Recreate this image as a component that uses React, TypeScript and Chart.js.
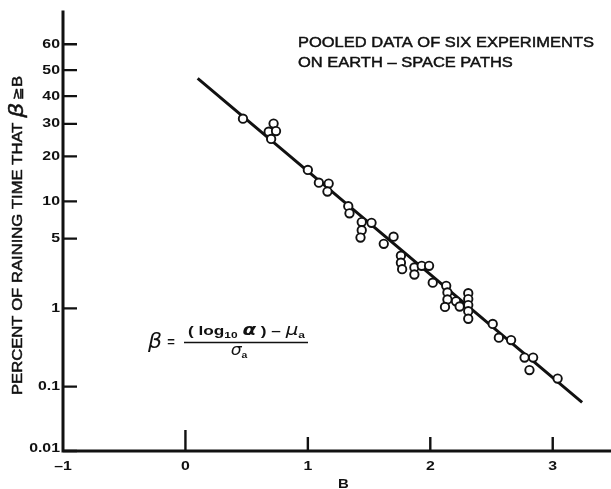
import React, { useEffect, useRef } from 'react';
import { Chart, registerables, LinearScale } from 'chart.js';

Chart.register(...registerables);

// Observed exceedance points: B value and percent of raining time that beta >= B
const B_VALUES = [
  0.47, 0.72, 0.68, 0.74, 0.70,
  1.00, 1.09, 1.17, 1.16,
  1.33, 1.34, 1.44, 1.52, 1.44, 1.43,
  1.62, 1.70, 1.76, 1.76, 1.77,
  1.87, 1.87, 1.93, 1.99, 2.02,
  2.13, 2.14, 2.14, 2.12, 2.21, 2.24,
  2.31, 2.31, 2.31, 2.31, 2.31,
  2.51, 2.56, 2.66, 2.77, 2.84, 2.81, 3.04,
];
const PERCENT_VALUES = [
  31.8, 30.1, 27.4, 27.6, 25.1,
  16.5, 13.6, 13.4, 11.8,
  9.2, 8.1, 6.9, 6.8, 5.9, 5.1,
  4.5, 5.2, 3.5, 3.0, 2.6,
  2.7, 2.3, 2.8, 2.8, 1.9,
  1.76, 1.5, 1.26, 1.04, 1.2, 1.05,
  1.47, 1.27, 1.09, 0.93, 0.76,
  0.66, 0.45, 0.42, 0.25, 0.25, 0.17, 0.13,
];

// Fitted straight line on the probability scale
const LINE_B = [0.1, 3.24];
const LINE_PERCENT = [46.8, 0.059];

// Axis ticks
const X_TICKS = [-1, 0, 1, 2, 3];
const X_TICK_LABELS = ['\u20131', '0', '1', '2', '3'];
const Y_TICKS = [0.01, 0.1, 1, 5, 10, 20, 30, 40, 50, 60];
const Y_TICK_LABELS = ['0.01', '0.1', '1', '5', '10', '20', '30', '40', '50', '60'];

const TITLE_LINES = ['POOLED DATA OF SIX EXPERIMENTS', 'ON EARTH \u2013 SPACE PATHS'];
const X_TITLE = 'B';

const INK = '#111111';
const SANS = '"Liberation Sans", Arial, sans-serif';
const GREEK = '"DejaVu Sans", sans-serif';

// Inverse of the standard normal CDF (Acklam's rational approximation)
function normInv(p: number): number {
  const a = [-3.969683028665376e1, 2.209460984245205e2, -2.759285104469687e2, 1.38357751867269e2, -3.066479806614716e1, 2.506628277459239];
  const b = [-5.447609879822406e1, 1.615858368580409e2, -1.556989798598866e2, 6.680131188771972e1, -1.328068155288572e1];
  const c = [-7.784894002430293e-3, -3.223964580411365e-1, -2.400758277161838, -2.549732539343734, 4.374664141464968, 2.938163982698783];
  const d = [7.784695709041462e-3, 3.224671290700398e-1, 2.445134137142996, 3.754408661907416];
  const pLow = 0.02425;
  if (p < pLow) {
    const q = Math.sqrt(-2 * Math.log(p));
    return (((((c[0] * q + c[1]) * q + c[2]) * q + c[3]) * q + c[4]) * q + c[5]) /
      ((((d[0] * q + d[1]) * q + d[2]) * q + d[3]) * q + 1);
  }
  if (p <= 1 - pLow) {
    const q = p - 0.5;
    const r = q * q;
    return ((((((a[0] * r + a[1]) * r + a[2]) * r + a[3]) * r + a[4]) * r + a[5]) * q) /
      (((((b[0] * r + b[1]) * r + b[2]) * r + b[3]) * r + b[4]) * r + 1);
  }
  const q = Math.sqrt(-2 * Math.log(1 - p));
  return -(((((c[0] * q + c[1]) * q + c[2]) * q + c[3]) * q + c[4]) * q + c[5]) /
    ((((d[0] * q + d[1]) * q + d[2]) * q + d[3]) * q + 1);
}

function normCdf(z: number): number {
  const t = 1 / (1 + 0.3275911 * Math.abs(z) / Math.SQRT2);
  const y = 1 - (((((1.061405429 * t - 1.453152027) * t) + 1.421413741) * t - 0.284496736) * t + 0.254829592) * t *
    Math.exp(-(z * z) / 2);
  return z >= 0 ? 0.5 * (1 + y) : 0.5 * (1 - y);
}

// Normal-probability axis for percentages
class ProbitScale extends LinearScale {
  static id = 'probit';
  static defaults = {};
  _zMin = 0;
  _zMax = 1;

  determineDataLimits() {
    const opts: any = this.options;
    this.min = opts.min;
    this.max = opts.max;
  }

  buildTicks() {
    return Y_TICKS.map((value) => ({ value }));
  }

  configure() {
    super.configure();
    this._zMin = normInv(this.min / 100);
    this._zMax = normInv(this.max / 100);
  }

  getPixelForValue(value: number) {
    const z = normInv(value / 100);
    return this.getPixelForDecimal((z - this._zMin) / (this._zMax - this._zMin));
  }

  getValueForPixel(pixel: number) {
    const dec = this.getDecimalForPixel(pixel);
    return 100 * normCdf(this._zMin + dec * (this._zMax - this._zMin));
  }
}
Chart.register(ProbitScale as any);

type Run = { text: string; font: string; dy?: number };

function runsWidth(ctx: CanvasRenderingContext2D, runs: Run[]) {
  let w = 0;
  for (const r of runs) {
    ctx.font = r.font;
    w += ctx.measureText(r.text).width;
  }
  return w;
}

function drawRuns(ctx: CanvasRenderingContext2D, runs: Run[], x: number, y: number, heavy = 0) {
  let cx = x;
  ctx.textAlign = 'left';
  ctx.textBaseline = 'alphabetic';
  for (const r of runs) {
    ctx.font = r.font;
    ctx.fillText(r.text, cx, y + (r.dy || 0));
    if (heavy > 0) {
      ctx.lineWidth = heavy;
      ctx.strokeText(r.text, cx, y + (r.dy || 0));
    }
    cx += ctx.measureText(r.text).width;
  }
}

// Draws runs stretched to fill [x, x + width] on the given baseline
function drawRunsFit(ctx: CanvasRenderingContext2D, runs: Run[], x: number, y: number, width: number, heavy = 0) {
  const w = runsWidth(ctx, runs);
  ctx.save();
  ctx.translate(x, y);
  ctx.scale(width / w, 1);
  drawRuns(ctx, runs, 0, 0, heavy);
  ctx.restore();
}

function drawStretched(ctx: CanvasRenderingContext2D, text: string, x: number, y: number, sx: number, align: CanvasTextAlign, heavy = 0) {
  ctx.save();
  ctx.translate(x, y);
  ctx.scale(sx, 1);
  ctx.textAlign = align;
  ctx.fillText(text, 0, 0);
  if (heavy > 0) {
    ctx.lineWidth = heavy;
    ctx.strokeText(text, 0, 0);
  }
  ctx.restore();
}

const decorations = {
  id: 'decorations',
  beforeDatasetsDraw(chart: any) {
    const { ctx, chartArea } = chart;
    // axis lines
    ctx.save();
    ctx.strokeStyle = INK;
    ctx.lineWidth = 3;
    ctx.lineCap = 'square';
    ctx.beginPath();
    ctx.moveTo(chartArea.left, chartArea.top);
    ctx.lineTo(chartArea.left, chartArea.bottom);
    ctx.lineTo(chart.width, chartArea.bottom);
    ctx.stroke();
    ctx.restore();
  },
  afterDraw(chart: any) {
    const { ctx, chartArea, scales } = chart;
    const xs = scales.x;
    const ys = scales.y;
    ctx.save();
    ctx.strokeStyle = INK;
    ctx.fillStyle = INK;
    ctx.lineCap = 'butt';

    // tick marks pointing into the plot
    ctx.lineWidth = 2.4;
    ctx.beginPath();
    for (const t of Y_TICKS) {
      const py = ys.getPixelForValue(t);
      ctx.moveTo(chartArea.left, py);
      ctx.lineTo(chartArea.left + 14, py);
    }
    for (const t of X_TICKS) {
      if (t === X_TICKS[0]) continue;
      const px = xs.getPixelForValue(t);
      ctx.moveTo(px, chartArea.bottom);
      ctx.lineTo(px, chartArea.bottom - (t === 0 ? 21 : 14));
    }
    ctx.stroke();

    // tick labels
    ctx.font = `bold 13px ${SANS}`;
    ctx.textBaseline = 'middle';
    Y_TICKS.forEach((t, i) => {
      const py = ys.getPixelForValue(t) - (i === 0 ? 3 : 0);
      drawStretched(ctx, Y_TICK_LABELS[i], chartArea.left - 3, py, 1.22, 'right');
    });
    X_TICKS.forEach((t, i) => {
      drawStretched(ctx, X_TICK_LABELS[i], xs.getPixelForValue(t), chartArea.bottom + 15, 1.22, 'center');
    });

    // x axis title
    ctx.font = `bold 13px ${SANS}`;
    drawStretched(ctx, X_TITLE, xs.getPixelForValue(1.29), chartArea.bottom + 33, 1.15, 'center');

    // y axis title, rotated
    const yRuns: Run[] = [
      { text: 'PERCENT OF RAINING TIME THAT ', font: `14px ${SANS}` },
      { text: '\u03B2', font: `oblique 20px ${GREEK}`, dy: 1 },
      { text: ' ', font: `8px ${SANS}` },
      { text: '\u2267', font: `13px ${GREEK}` },
      { text: 'B', font: `14px ${SANS}` },
    ];
    ctx.save();
    ctx.translate(16.7, 235.5);
    ctx.rotate(-Math.PI / 2);
    drawRunsFit(ctx, yRuns, -159.5, 5, 319, 0.45);
    ctx.restore();

    // note at the top right
    ctx.font = `14px ${SANS}`;
    ctx.textBaseline = 'alphabetic';
    const sx = 296 / ctx.measureText(TITLE_LINES[0]).width;
    drawStretched(ctx, TITLE_LINES[0], 298, 46.5, sx, 'left', 0.45);
    drawStretched(ctx, TITLE_LINES[1], 298, 66.5, sx, 'left', 0.45);

    // beta definition
    ctx.font = `oblique 22px ${GREEK}`;
    ctx.textAlign = 'left';
    ctx.textBaseline = 'alphabetic';
    ctx.fillText('\u03B2', 148, 348);
    ctx.font = `bold 13px ${SANS}`;
    ctx.textAlign = 'center';
    ctx.fillText('=', 171, 346);
    ctx.lineWidth = 1.6;
    ctx.beginPath();
    ctx.moveTo(184, 342.5);
    ctx.lineTo(308, 342.5);
    ctx.stroke();
    const num: Run[] = [
      { text: '( log', font: `bold 13px ${SANS}` },
      { text: '10', font: `bold 9px ${SANS}`, dy: 3 },
      { text: ' ', font: `bold 13px ${SANS}` },
      { text: '\u03B1', font: `oblique bold 15px ${GREEK}` },
      { text: ' ) \u2013 ', font: `bold 13px ${SANS}` },
      { text: '\u03BC', font: `oblique 15px ${GREEK}` },
      { text: 'a', font: `bold 9px ${SANS}`, dy: 3 },
    ];
    drawRunsFit(ctx, num, 188, 335, 117);
    const den: Run[] = [
      { text: '\u03C3', font: `oblique 15px ${GREEK}` },
      { text: 'a', font: `bold 9px ${SANS}`, dy: 3 },
    ];
    const dw = runsWidth(ctx, den) * 1.15;
    drawRunsFit(ctx, den, 239 - dw / 2, 355, dw);

    ctx.restore();
  },
};

export default function App() {
  const canvasRef = useRef<HTMLCanvasElement | null>(null);

  useEffect(() => {
    const canvas = canvasRef.current;
    if (!canvas) return;
    const points = B_VALUES.map((b, i) => ({ x: b, y: PERCENT_VALUES[i] }));
    const line = LINE_B.map((b, i) => ({ x: b, y: LINE_PERCENT[i] }));

    const chart = new Chart(canvas, {
      type: 'scatter',
      data: {
        datasets: [
          {
            label: 'Measured',
            data: points,
            order: 0,
            pointRadius: 4.2,
            pointBorderWidth: 1.9,
            pointBorderColor: INK,
            pointBackgroundColor: '#ffffff',
            pointHoverRadius: 4.2,
          },
          {
            label: 'Normal distribution',
            type: 'line',
            data: line,
            order: 1,
            showLine: true,
            borderColor: INK,
            borderWidth: 3,
            pointRadius: 0,
            fill: false,
          } as any,
        ],
      },
      options: {
        animation: false,
        responsive: false,
        devicePixelRatio: 1,
        layout: { autoPadding: false, padding: { top: 12, right: 0, left: 0, bottom: 0 } },
        plugins: {
          legend: { display: false },
          tooltip: { enabled: false },
          title: { display: false },
        },
        scales: {
          x: {
            type: 'linear',
            position: 'bottom',
            min: -1,
            max: 3.476,
            ticks: { display: false },
            grid: { display: false },
            border: { display: false },
            afterFit: (scale: any) => {
              scale.height = 38;
            },
          },
          y: {
            type: 'probit' as any,
            position: 'left',
            min: 0.01,
            max: 71.5,
            ticks: { display: false },
            grid: { display: false },
            border: { display: false },
            afterFit: (scale: any) => {
              scale.width = 63;
            },
          } as any,
        },
      },
      plugins: [decorations],
    });

    return () => chart.destroy();
  }, []);

  return (
    <div style={{ position: 'fixed', left: 0, top: 0, width: 611, height: 489, background: '#ffffff' }}>
      <canvas ref={canvasRef} width={611} height={489} style={{ display: 'block' }} />
    </div>
  );
}
